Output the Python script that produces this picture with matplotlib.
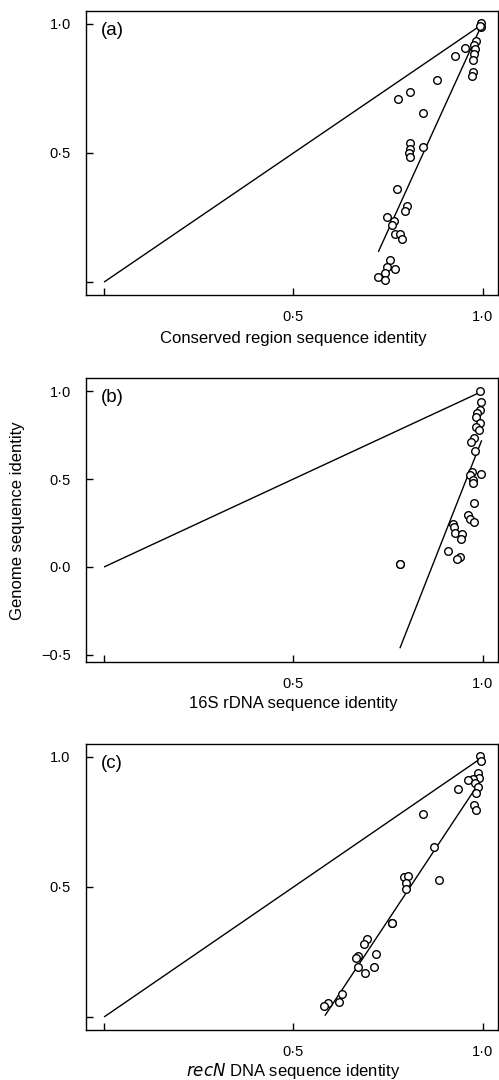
import matplotlib
matplotlib.use("Agg")
import matplotlib.pyplot as plt

plt.rcParams['font.family'] = ['Liberation Sans', 'DejaVu Sans']

# ---- Panel (a): conserved region ----
a_x = [0.995, 0.996, 0.993, 0.981, 0.976, 0.979, 0.977, 0.975, 0.974, 0.971,
       0.952, 0.926, 0.878, 0.807, 0.776, 0.843, 0.808, 0.808, 0.805, 0.807,
       0.842, 0.774, 0.799, 0.794, 0.746, 0.765, 0.761, 0.767, 0.780, 0.787,
       0.754, 0.748, 0.768, 0.741, 0.724, 0.743]
a_y = [1.003, 0.988, 0.992, 0.935, 0.918, 0.902, 0.882, 0.860, 0.815, 0.798,
       0.908, 0.877, 0.782, 0.738, 0.708, 0.656, 0.538, 0.516, 0.499, 0.486,
       0.525, 0.359, 0.296, 0.276, 0.252, 0.238, 0.221, 0.186, 0.185, 0.165,
       0.085, 0.059, 0.050, 0.036, 0.018, 0.010]
a_fit_x = [0.724, 0.995]
a_fit_y = [0.117, 0.990]

# ---- Panel (b): 16S rDNA ----
b_x = [0.992, 0.994, 0.992, 0.985, 0.982, 0.992, 0.982, 0.989, 0.976, 0.968,
       0.980, 0.972, 0.967, 0.974, 0.974, 0.994, 0.976, 0.961, 0.966, 0.976,
       0.922, 0.924, 0.927, 0.944, 0.942, 0.909, 0.939, 0.933, 0.781, 0.782]
b_y = [0.998, 0.936, 0.892, 0.877, 0.854, 0.820, 0.794, 0.778, 0.735, 0.708,
       0.661, 0.542, 0.523, 0.494, 0.479, 0.527, 0.362, 0.295, 0.273, 0.258,
       0.244, 0.226, 0.191, 0.187, 0.159, 0.089, 0.055, 0.044, 0.019, 0.016]
b_fit_x = [0.781, 0.997]
b_fit_y = [-0.462, 0.720]

# ---- Panel (c): recN DNA ----
c_x = [0.992, 0.994, 0.986, 0.989, 0.974, 0.961, 0.980, 0.986, 0.982, 0.935,
       0.976, 0.981, 0.841, 0.872, 0.885, 0.792, 0.802, 0.797, 0.796, 0.761,
       0.759, 0.693, 0.686, 0.717, 0.671, 0.664, 0.671, 0.713, 0.690, 0.629,
       0.620, 0.592, 0.580]
c_y = [1.004, 0.985, 0.937, 0.920, 0.915, 0.912, 0.899, 0.883, 0.860, 0.878,
       0.815, 0.796, 0.782, 0.655, 0.527, 0.537, 0.542, 0.517, 0.491, 0.363,
       0.361, 0.301, 0.281, 0.241, 0.236, 0.226, 0.194, 0.191, 0.168, 0.088,
       0.059, 0.055, 0.042]
c_fit_x = [0.583, 0.992]
c_fit_y = [0.005, 0.905]

identity_x = [0.0, 1.0]
identity_y = [0.0, 1.0]

x_ticks = [0.0, 0.5, 1.0]
x_ticklabels = ['', '0·5', '1·0']
a_yticks = [0.0, 0.5, 1.0]
a_yticklabels = ['', '0·5', '1·0']
b_yticks = [-0.5, 0.0, 0.5, 1.0]
b_yticklabels = ['\u22120·5', '0·0', '0·5', '1·0']
c_yticks = [0.0, 0.5, 1.0]
c_yticklabels = ['', '0·5', '1.0']

fig = plt.figure(figsize=(4.99, 10.80), dpi=100)

W = 499.0
H = 1080.0
def rect(l, t, r, b):
    return [l / W, 1 - b / H, (r - l) / W, (b - t) / H]

ax_a = fig.add_axes(rect(86, 11, 498, 295))
ax_b = fig.add_axes(rect(86, 378, 498, 662))
ax_c = fig.add_axes(rect(86, 744, 498, 1030))

panels = [
    (ax_a, a_x, a_y, a_fit_x, a_fit_y, a_yticks, a_yticklabels, (-0.050, 1.050), '(a)'),
    (ax_b, b_x, b_y, b_fit_x, b_fit_y, b_yticks, b_yticklabels, (-0.540, 1.074), '(b)'),
    (ax_c, c_x, c_y, c_fit_x, c_fit_y, c_yticks, c_yticklabels, (-0.050, 1.050), '(c)'),
]

for ax, xs, ys, fx, fy, yt, ytl, ylim, lab in panels:
    ax.plot(identity_x, identity_y, color='black', lw=1.0, solid_capstyle='butt')
    ax.plot(fx, fy, color='black', lw=1.0, solid_capstyle='butt')
    ax.plot(xs, ys, linestyle='none', marker='o', ms=5.5, mfc='white',
            mec='black', mew=1.0)
    ax.set_xlim(-0.0476, 1.040)
    ax.set_ylim(*ylim)
    ax.set_xticks(x_ticks)
    ax.set_xticklabels(x_ticklabels)
    ax.set_yticks(yt)
    ax.set_yticklabels(ytl)
    ax.tick_params(direction='in', length=5, width=1.0, labelsize=10.5,
                   pad=11, colors='black')
    for s in ax.spines.values():
        s.set_linewidth(1.0)
    ax.text(0.035, 0.962, lab, transform=ax.transAxes, fontsize=13.5,
            ha='left', va='top')

# axis titles (baseline positions in pixels from top)
fig.text(293 / W, 1 - 343 / H, 'Conserved region sequence identity',
         fontsize=12, ha='center', va='baseline')
fig.text(293 / W, 1 - 708 / H, '16S rDNA sequence identity',
         fontsize=12, ha='center', va='baseline')
fig.text(293 / W, 1 - 1076 / H, '$\\it{recN}$ DNA sequence identity',
         fontsize=12, ha='center', va='baseline')
fig.text(18 / W, 1 - 521 / H, 'Genome sequence identity',
         fontsize=12, ha='center', va='center', rotation=90)

fig.savefig('out.png', dpi=100)
